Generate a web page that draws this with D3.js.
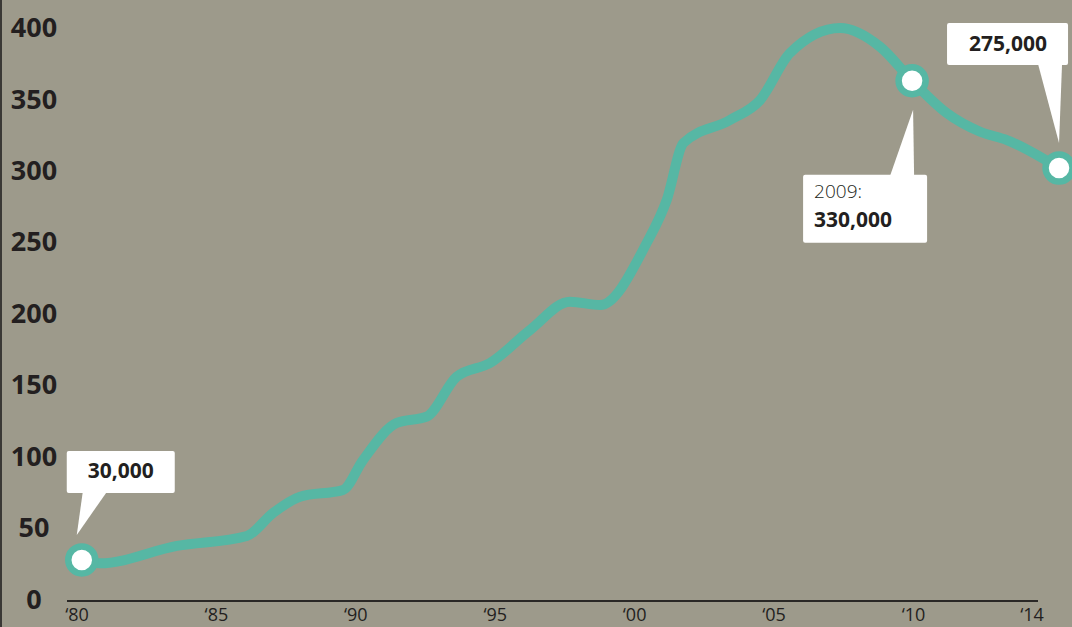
<!DOCTYPE html>
<html>
<head>
<meta charset="utf-8">
<script src="https://cdn.jsdelivr.net/npm/d3@7"></script>
<style>
  html, body { margin: 0; padding: 0; background: #9d9a8b; }
  svg { display: block; }
  text { font-family: "Open Sans", "Noto Sans", sans-serif; fill: #231f20; }
</style>
</head>
<body>
<svg id="chart" width="1072" height="627"></svg>
<script>
// ---- data (values in thousands; years) ----
const years  = [1980.35, 1981.0, 1983.76, 1986.27, 1987.21, 1988.18, 1989.72, 1990.44, 1991.65, 1992.72,
                1993.80, 1994.99, 1996.43, 1997.86, 1998.94, 2000.61, 2001.33, 2001.93, 2003.60, 2004.68,
                2005.75, 2007.55, 2008.98, 2010.13, 2011.37, 2012.57, 2013.53, 2015.40];
const values = [27.2, 24.9, 37.0, 44.0, 60.1, 71.5, 76.2, 97.2, 123.1, 127.5,
                155.5, 165.1, 188.2, 208.0, 205.7, 249.1, 279.2, 319.1, 335.2, 349.2,
                382.1, 399.6, 386.5, 362.7, 340.1, 327.0, 321.2, 301.6];
const yTicks = [0, 50, 100, 150, 200, 250, 300, 350, 400];
const xTicks = [1980, 1985, 1990, 1995, 2000, 2005, 2010, 2014];
const xTickLabels = ["‘80", "‘85", "‘90", "‘95", "‘00", "‘05", "‘10", "‘14"];
const markerIdx = [0, 23, 27];
const calloutLines = [[{t: "30,000", b: true}], [{t: "2009:", b: false}, {t: "330,000", b: true}], [{t: "275,000", b: true}]];

// ---- chart ----
const svg = d3.select("#chart");
const x = d3.scaleLinear().domain([1980, 2014]).range([72, 1020]);
const y = d3.scaleLinear().domain([0, 400]).range([598.8, 27.5]);
const data = years.map((yr, i) => ({yr, v: values[i]}));

svg.append("rect").attr("width", 1072).attr("height", 627).attr("fill", "#9d9a8b");
// left rule
svg.append("line").attr("x1", 1).attr("x2", 1).attr("y1", 0).attr("y2", 627)
  .attr("stroke", "#3a3835").attr("stroke-width", 2);

// y labels
svg.append("g").selectAll("text").data(yTicks).join("text")
  .attr("x", 34).attr("y", d => y(d)).attr("dy", "0.36em")
  .attr("text-anchor", "middle").attr("font-size", 27).attr("font-weight", 700)
  .text(d => d);

// x axis baseline + labels
svg.append("line").attr("x1", 67).attr("x2", 1038).attr("y1", 601).attr("y2", 601)
  .attr("stroke", "#2a2826").attr("stroke-width", 2);
svg.append("g").selectAll("text").data(xTicks).join("text")
  .attr("x", d => x(d) + (d === 2014 ? 12 : 5)).attr("y", 621)
  .attr("text-anchor", "middle").attr("font-size", 18).attr("font-weight", 400)
  .attr("fill", "#2b2926")
  .text((d, i) => xTickLabels[i]);

// line
const line = d3.line().x(d => x(d.yr)).y(d => y(d.v)).curve(d3.curveMonotoneX);
svg.append("path").datum(data).attr("d", line)
  .attr("fill", "none").attr("stroke", "#56b7a4").attr("stroke-width", 10)
  .attr("stroke-linecap", "round").attr("stroke-linejoin", "round");

// markers
svg.append("g").selectAll("circle").data(markerIdx.map(i => data[i])).join("circle")
  .attr("cx", d => x(d.yr)).attr("cy", d => y(d.v)).attr("r", 13.5)
  .attr("fill", "#ffffff").attr("stroke", "#56b7a4").attr("stroke-width", 6.5);

// callouts (layout offsets relative to their markers)
const layouts = [
  {box: [-15, -109, 108, 42], ptr: [[1, 0], [25, 0], [-5, -25]], ptrAt: "bottom", tx: 39, ty: [27], anchor: "middle"},
  {box: [-109, 94, 124, 68], ptr: [[-22, 0], [2, 0], [1, 29]], ptrAt: "top", tx: -98, ty: [23, 52], anchor: "start"},
  {box: [-112, -145, 121, 42], ptr: [[-21, 0], [3, 0], [0, -25]], ptrAt: "bottom", tx: -51, ty: [28], anchor: "middle"}
];
const cg = svg.append("g");
markerIdx.forEach((idx, k) => {
  const mx = x(data[idx].yr), my = y(data[idx].v);
  const L = layouts[k];
  const bx = mx + L.box[0], by = my + L.box[1], bw = L.box[2], bh = L.box[3];
  cg.append("rect").attr("x", bx).attr("y", by).attr("width", bw).attr("height", bh)
    .attr("rx", 2).attr("fill", "#ffffff");
  const baseY = L.ptrAt === "bottom" ? by + bh - 1 : by + 1;
  const pts = [[mx + L.ptr[0][0], baseY], [mx + L.ptr[1][0], baseY], [mx + L.ptr[2][0], my + L.ptr[2][1]]];
  cg.append("path").attr("d", "M" + pts.map(p => p.join(",")).join("L") + "Z").attr("fill", "#ffffff");
  calloutLines[k].forEach((ln, j) => {
    cg.append("text")
      .attr("x", mx + L.tx).attr("y", by + L.ty[j])
      .attr("text-anchor", L.anchor)
      .attr("font-size", ln.b ? 21 : 19).attr("font-weight", ln.b ? 700 : 300)
      .attr("fill", ln.b ? "#231f20" : "#2a2a2a")
      .text(ln.t);
  });
});
</script>
</body>
</html>
